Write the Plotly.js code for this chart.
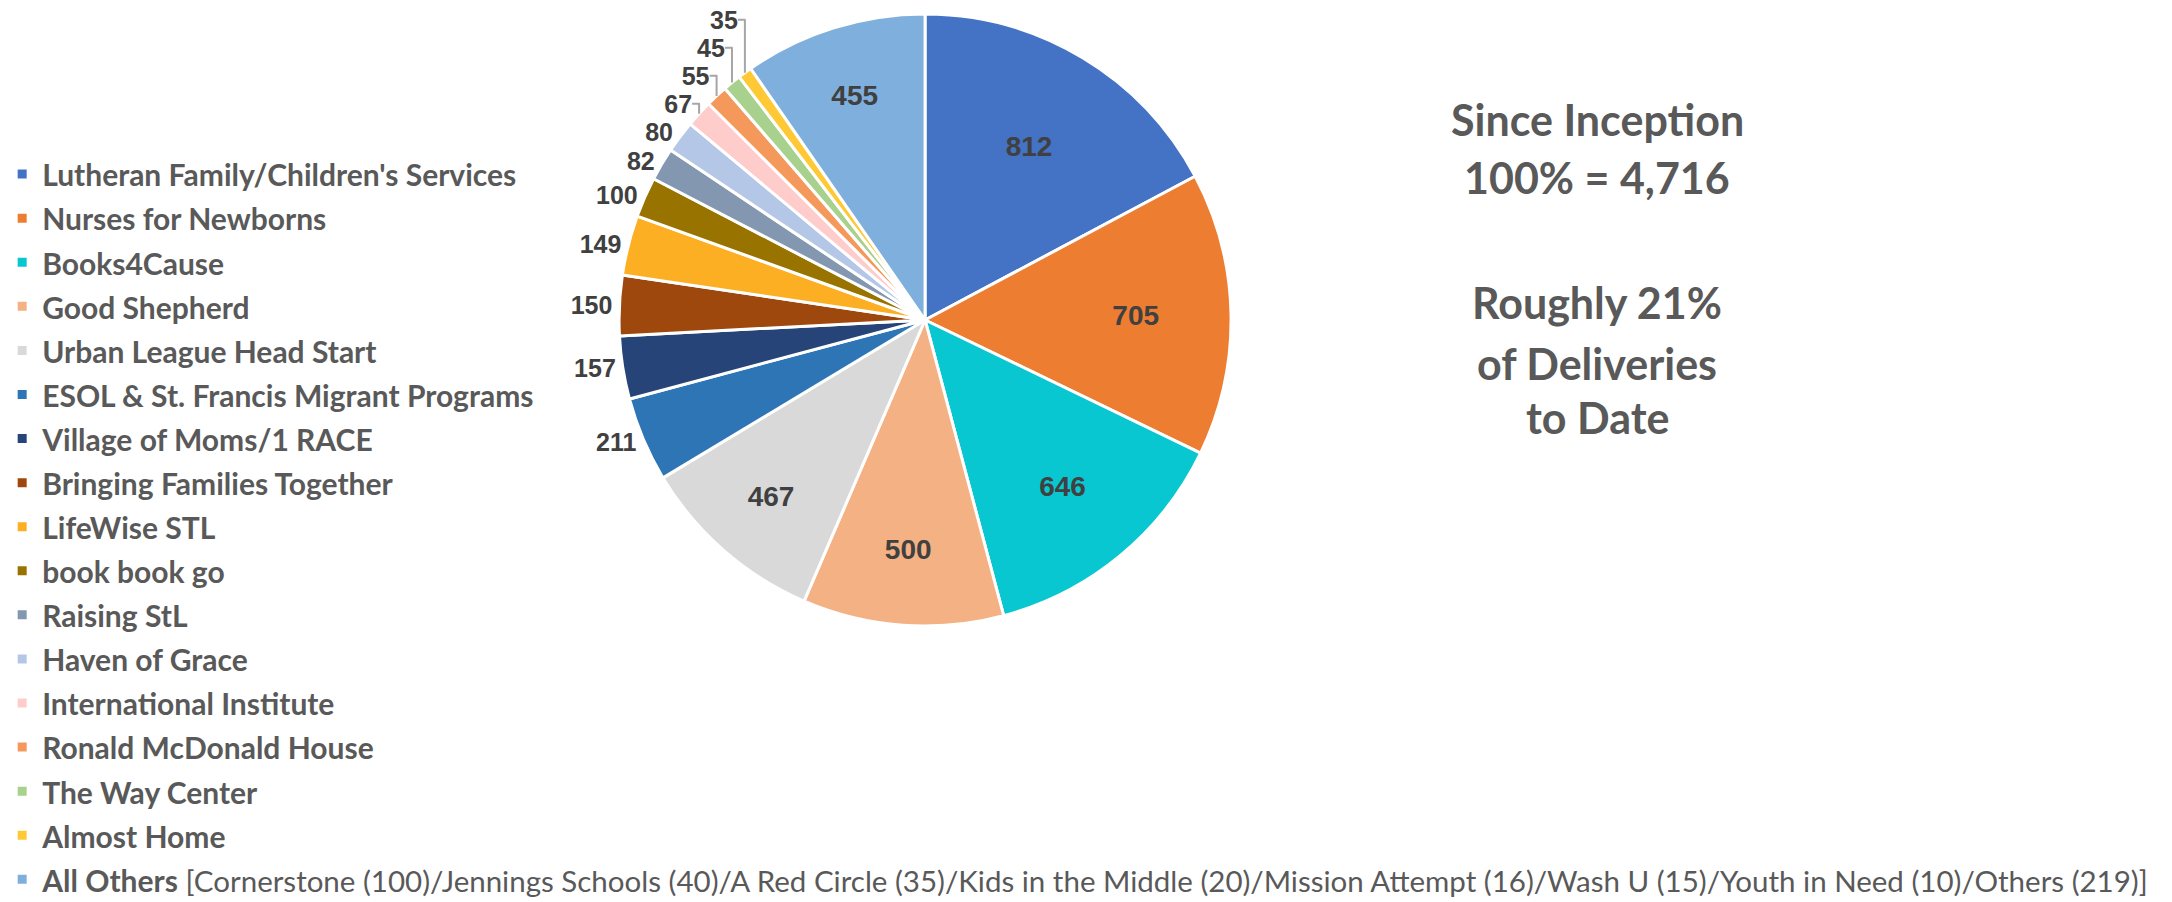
<!DOCTYPE html>
<html>
<head>
<meta charset="utf-8">
<script src="https://cdn.plot.ly/plotly-3.0.1.min.js"></script>
<style>
  html, body { margin: 0; padding: 0; background: #ffffff; }
  #chart { width: 2172px; height: 902px; }
</style>
</head>
<body>
<div id="chart"></div>
<script>
// ---- data ----
const categories = [
  "Lutheran Family/Children's Services",
  "Nurses for Newborns",
  "Books4Cause",
  "Good Shepherd",
  "Urban League Head Start",
  "ESOL & St. Francis Migrant Programs",
  "Village of Moms/1 RACE",
  "Bringing Families Together",
  "LifeWise STL",
  "book book go",
  "Raising StL",
  "Haven of Grace",
  "International Institute",
  "Ronald McDonald House",
  "The Way Center",
  "Almost Home",
  "All Others"
];
const deliveries = [812, 705, 646, 500, 467, 211, 157, 150, 149, 100, 82, 80, 67, 55, 45, 35, 455];
const sliceColors = [
  "#4472C4", "#ED7D31", "#08C7D1", "#F4B183", "#D9D9D9", "#2E75B6",
  "#264478", "#9E480E", "#FDAF24", "#997300", "#8497B0", "#B4C7E7",
  "#FFCCCC", "#F4995B", "#A9D18E", "#FFC935", "#7EAFDD"
];
const othersNote = "[Cornerstone (100)/Jennings Schools (40)/A Red Circle (35)/Kids in the Middle (20)/Mission Attempt (16)/Wash U (15)/Youth in Need (10)/Others (219)]";
const sideText1 = ["Since Inception", "100% = 4,716"];
const sideText2 = ["Roughly 21%", "of Deliveries", "to Date"];

// ---- build ----
const legendSize = 30;
const legendLabels = categories.map(function (c) {
  let s = '<b>' + c + '</b>';
  if (c === "All Others") {
    s += ' <span style="font-weight:normal;font-size:29.5px">' + othersNote + '</span>';
  }
  return '<span style="font-size:' + legendSize + 'px">' + s + '</span>';
});
const positions = deliveries.map(function (v) {
  return (v >= 300) ? 'inside' : 'outside';
});

const trace = {
  type: 'pie',
  labels: legendLabels,
  values: deliveries,
  sort: false,
  direction: 'clockwise',
  rotation: 0,
  marker: { colors: sliceColors, line: { color: '#ffffff', width: 3 } },
  text: deliveries.map(String),
  texttemplate: '<span style="color:#404040">%{text}</span>',
  textposition: positions,
  insidetextorientation: 'horizontal',
  textfont: { family: 'Liberation Sans', size: 28, color: '#404040', weight: 'bold' },
  insidetextfont: { family: 'Liberation Sans', size: 28, color: '#404040', weight: 'bold' },
  outsidetextfont: { family: 'Liberation Sans', size: 25, color: '#A6A6A6', weight: 'bold' },
  hoverinfo: 'label+value',
  domain: { x: [0.2850, 0.5668], y: [0.3060, 0.9845] },
  showlegend: true
};

const sideY1 = [0.867, 0.8027];
const sideY2 = [0.6641, 0.5975, 0.5366];
const sideFont = { family: 'Lato', size: 43, color: '#595959' };
const annotations = [];
sideText1.concat(sideText2).forEach(function (t, i) {
  const yy = i < sideText1.length ? sideY1[i] : sideY2[i - sideText1.length];
  annotations.push({ text: '<b>' + t + '</b>', x: 0.7353, y: yy, xref: 'paper', yref: 'paper',
    xanchor: 'center', yanchor: 'middle', showarrow: false, font: sideFont });
});

const layout = {
  width: 2172,
  height: 902,
  margin: { l: 0, r: 0, t: 0, b: 0, autoexpand: false },
  paper_bgcolor: '#ffffff',
  showlegend: true,
  legend: {
    x: 0.001, xanchor: 'left', y: 0.8370, yanchor: 'top',
    font: { family: 'Lato', size: 31.6, color: '#595959' },
    bgcolor: 'rgba(0,0,0,0)', borderwidth: 0,
    traceorder: 'normal'
  },
  annotations: annotations
};

Plotly.newPlot('chart', [trace], layout, { displayModeBar: false, staticPlot: true });
</script>
</body>
</html>
